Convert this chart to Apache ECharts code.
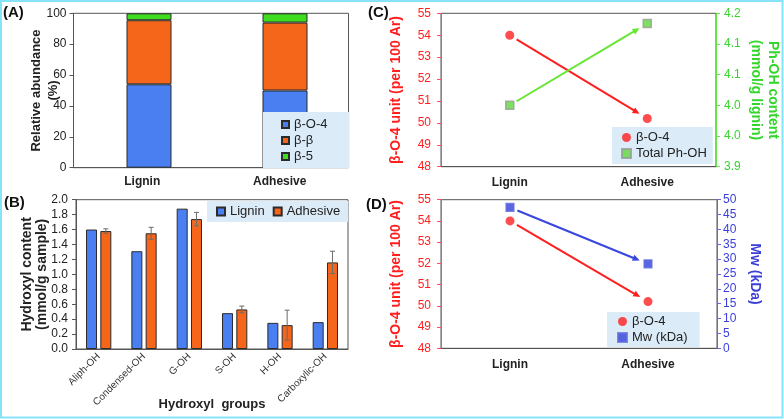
<!DOCTYPE html>
<html>
<head>
<meta charset="utf-8">
<script src="https://cdn.jsdelivr.net/npm/echarts@6/dist/echarts.min.js"></script>
<style>
html,body{margin:0;padding:0;background:#fff;}
#chart{width:784px;height:420px;}
</style>
</head>
<body>
<div id="chart"></div>
<script>
// ---------- data ----------
const abundCats = ['Lignin', 'Adhesive'];
const abundBO4 = [54, 50];
const abundBB = [41.5, 44];
const abundB5 = [4.5, 6];

const ohCats = ['Aliph-OH', 'Condensed-OH', 'G-OH', 'S-OH', 'H-OH', 'Carboxylic-OH'];
const ligninOH = [1.60, 1.31, 1.88, 0.48, 0.35, 0.36];
const adhesiveOH = [1.58, 1.55, 1.74, 0.53, 0.32, 1.16];
const adhesiveErr = [0.03, 0.08, 0.09, 0.045, 0.20, 0.15];

const sampleCats = ['Lignin', 'Adhesive'];
const betaO4Unit = [54.0, 50.2];
const phOH = [4.02, 4.18];
const mwKDa = [47.4, 28.4];

const leftTicksBO4 = [48, 55, 1];
const phTicks = [3.9, 4.2, 0.06];
const mwTicks = [0, 50, 5];

// ---------- style ----------
const FONT = "'Liberation Sans', Arial, sans-serif";
const BLUE = '#4a7ff2', ORANGE = '#f5661a', GREEN = '#3fdc1f';
const RED = '#ff1f1f', GRN = '#33d62a', NAVY = '#3b3fd8';
const AX = '#555';

const chart = echarts.init(document.getElementById('chart'), null, {renderer: 'canvas'});

function arrowRender(color, g0, g1) {
  return function (params, api) {
    const p0 = api.coord([api.value(0), api.value(1)]);
    const p1 = api.coord([api.value(2), api.value(3)]);
    const dx = p1[0] - p0[0], dy = p1[1] - p0[1];
    const L = Math.hypot(dx, dy), ux = dx / L, uy = dy / L;
    const nx = -uy, ny = ux;
    const s = [p0[0] + ux * g0, p0[1] + uy * g0];
    const e = [p1[0] - ux * g1, p1[1] - uy * g1];
    const hl = 7, hw = 3.2;
    const b = [e[0] - ux * hl, e[1] - uy * hl];
    return {
      type: 'group',
      children: [
        {type: 'line', shape: {x1: s[0], y1: s[1], x2: b[0] + ux, y2: b[1] + uy}, style: {stroke: color, lineWidth: 2}},
        {type: 'polygon', shape: {points: [e, [b[0] + nx * hw, b[1] + ny * hw], [b[0] - nx * hw, b[1] - ny * hw]]}, style: {fill: color}}
      ]
    };
  };
}

function errRender(params, api) {
  const i = api.value(0);
  const lo = api.coord([i, api.value(1)]);
  const hi = api.coord([i, api.value(2)]);
  const off = 11 / 2 + 11 * 0.3 / 2;
  const x = lo[0] + off, cap = 2.5;
  const st = {stroke: '#6b6b6b', lineWidth: 1};
  return {
    type: 'group',
    children: [
      {type: 'line', shape: {x1: x, y1: lo[1], x2: x, y2: hi[1]}, style: st},
      {type: 'line', shape: {x1: x - cap, y1: lo[1], x2: x + cap, y2: lo[1]}, style: st},
      {type: 'line', shape: {x1: x - cap, y1: hi[1], x2: x + cap, y2: hi[1]}, style: st}
    ]
  };
}

const catLabel = {fontFamily: FONT, fontSize: 12, fontWeight: 'bold', color: '#222'};
const numLabel = (c) => ({fontFamily: FONT, fontSize: 12, color: c});
const nameStyle = (c, lh) => ({fontFamily: FONT, fontSize: 14, fontWeight: 'bold', color: c, lineHeight: lh || 16});

const option = {
  animation: false,
  backgroundColor: '#fff',
  textStyle: {fontFamily: FONT},
  title: [
    {text: '(A)', left: 3, top: 5, padding: 0, textStyle: {fontFamily: FONT, fontSize: 15, fontWeight: 'bold', color: '#111'}},
    {text: '(B)', left: 4, top: 195, padding: 0, textStyle: {fontFamily: FONT, fontSize: 15, fontWeight: 'bold', color: '#111'}},
    {text: '(C)', left: 368, top: 5, padding: 0, textStyle: {fontFamily: FONT, fontSize: 15, fontWeight: 'bold', color: '#111'}},
    {text: '(D)', left: 366, top: 197, padding: 0, textStyle: {fontFamily: FONT, fontSize: 15, fontWeight: 'bold', color: '#111'}}
  ],
  graphic: [
    {type: 'rect', z: 100, shape: {x: 1, y: 1, width: 781.5, height: 416.5}, style: {fill: 'none', stroke: '#86e3f8', lineWidth: 2}}
  ],
  grid: [
    {left: 73.5, top: 13.3, width: 275, height: 154.4, show: true, borderColor: AX, borderWidth: 1},
    {left: 81, top: 13.3, width: 272, height: 154.4, show: false},
    {left: 76, top: 199.7, width: 272, height: 149.3, show: true, borderColor: AX, borderWidth: 1},
    {left: 441, top: 13.3, width: 275, height: 153.4, show: true, borderColor: AX, borderWidth: 1},
    {left: 441, top: 199.7, width: 276, height: 148.6, show: true, borderColor: AX, borderWidth: 1}
  ],
  xAxis: [
    {gridIndex: 0, type: 'category', data: abundCats, axisLine: {lineStyle: {color: AX}}, axisTick: {alignWithLabel: true, length: 4, lineStyle: {color: AX}}, axisLabel: Object.assign({margin: 8}, catLabel), splitLine: {show: false}},
    {gridIndex: 1, type: 'category', data: abundCats, show: false},
    {gridIndex: 2, type: 'category', data: ohCats, axisLine: {lineStyle: {color: AX}}, axisTick: {length: 4, lineStyle: {color: AX}}, axisLabel: {rotate: 45, margin: 6, fontFamily: FONT, fontSize: 10, color: '#333', interval: 0},
      name: 'Hydroxyl  groups', nameLocation: 'middle', nameGap: 49, nameMoveOverlap: false, nameTextStyle: {fontFamily: FONT, fontSize: 13, fontWeight: 'bold', color: '#222'}},
    {gridIndex: 3, type: 'category', data: sampleCats, axisLine: {lineStyle: {color: AX}}, axisTick: {alignWithLabel: true, length: 4, lineStyle: {color: AX}}, axisLabel: Object.assign({margin: 10}, catLabel)},
    {gridIndex: 4, type: 'category', data: sampleCats, axisLine: {lineStyle: {color: AX}}, axisTick: {alignWithLabel: true, length: 4, lineStyle: {color: AX}}, axisLabel: Object.assign({margin: 10}, catLabel)}
  ],
  yAxis: [
    {gridIndex: 0, type: 'value', min: 0, max: 100, interval: 20, splitLine: {show: false},
      axisLine: {show: true, lineStyle: {color: AX}}, axisTick: {show: true, length: 4, lineStyle: {color: AX}}, axisLabel: Object.assign({margin: 7}, numLabel('#222')),
      name: 'Relative abundance\n(%)', nameLocation: 'middle', nameGap: 12, nameMoveOverlap: false, nameTextStyle: Object.assign(nameStyle('#222', 17), {fontSize: 13})},
    {gridIndex: 1, type: 'value', min: 0, max: 100, show: false, splitLine: {show: false}},
    {gridIndex: 2, type: 'value', min: 0, max: 2, interval: 0.2, splitLine: {show: false},
      axisLine: {show: true, lineStyle: {color: AX}}, axisTick: {show: true, length: 4, lineStyle: {color: AX}},
      axisLabel: Object.assign({margin: 8, formatter: v => v.toFixed(1)}, numLabel('#222')),
      name: 'Hydroxyl content\n(mmol/g sample)', nameLocation: 'middle', nameGap: 26, nameMoveOverlap: false, nameTextStyle: nameStyle('#222', 15)},
    {gridIndex: 3, type: 'value', position: 'left', min: leftTicksBO4[0], max: leftTicksBO4[1], interval: leftTicksBO4[2], splitLine: {show: false},
      axisLine: {show: true, lineStyle: {color: '#ff4d6a'}}, axisTick: {show: true, length: 4, lineStyle: {color: '#ff4d6a'}}, axisLabel: Object.assign({margin: 10}, numLabel(RED)),
      name: 'β-O-4 unit (per 100 Ar)', nameLocation: 'middle', nameGap: 37, nameMoveOverlap: false, nameTextStyle: nameStyle(RED)},
    {gridIndex: 3, type: 'value', position: 'right', min: phTicks[0], max: phTicks[1], interval: phTicks[2], splitLine: {show: false},
      axisLine: {show: true, lineStyle: {color: '#66e64a'}}, axisTick: {show: true, length: 4, lineStyle: {color: '#66e64a'}},
      axisLabel: Object.assign({margin: 8, formatter: v => v.toFixed(1)}, numLabel(GRN)),
      name: 'Ph-OH content\n(mmol/g lignin)', nameLocation: 'middle', nameRotate: -90, nameGap: 31, nameMoveOverlap: false, nameTextStyle: nameStyle(GRN, 17)},
    {gridIndex: 4, type: 'value', position: 'left', min: leftTicksBO4[0], max: leftTicksBO4[1], interval: leftTicksBO4[2], splitLine: {show: false},
      axisLine: {show: true, lineStyle: {color: '#ff4d6a'}}, axisTick: {show: true, length: 4, lineStyle: {color: '#ff4d6a'}}, axisLabel: Object.assign({margin: 10}, numLabel(RED)),
      name: 'β-O-4 unit (per 100 Ar)', nameLocation: 'middle', nameGap: 37, nameMoveOverlap: false, nameTextStyle: nameStyle(RED)},
    {gridIndex: 4, type: 'value', position: 'right', min: mwTicks[0], max: mwTicks[1], interval: mwTicks[2], splitLine: {show: false},
      axisLine: {show: true, lineStyle: {color: '#6464f0'}}, axisTick: {show: true, length: 4, lineStyle: {color: '#6464f0'}},
      axisLabel: Object.assign({margin: 6}, numLabel(NAVY)),
      name: 'Mw (kDa)', nameLocation: 'middle', nameRotate: -90, nameGap: 30, nameMoveOverlap: false, nameTextStyle: nameStyle(NAVY)}
  ],
  legend: [
    {left: 263, top: 112, orient: 'vertical', data: ['β-O-4', 'β-β', 'β-5'], icon: 'rect', itemWidth: 7, itemHeight: 7, itemGap: 3,
      padding: [6, 22, 5, 18], backgroundColor: '#dcebf8', textStyle: {fontFamily: FONT, fontSize: 13, color: '#222'}, selectedMode: false},
    {left: 207, top: 201, orient: 'horizontal', data: ['Lignin', 'Adhesive'], icon: 'rect', itemWidth: 8, itemHeight: 8, itemGap: 8,
      padding: [4, 8, 4, 9], backgroundColor: '#dcebf8', textStyle: {fontFamily: FONT, fontSize: 13, color: '#222'}, selectedMode: false},
    {left: 612, top: 127, orient: 'vertical', data: ['β-O-4\u200b', 'Total Ph-OH'], itemWidth: 9, itemHeight: 9, itemGap: 3,
      padding: [4, 6, 4, 9], backgroundColor: '#dcebf8', textStyle: {fontFamily: FONT, fontSize: 13, color: '#222'}, selectedMode: false,
      formatter: n => n.replace(/\u200b/g, '')},
    {left: 607, top: 312, orient: 'vertical', data: ['β-O-4\u200b\u200b', 'Mw (kDa)'], itemWidth: 9, itemHeight: 9, itemGap: 3,
      padding: [3, 12, 3, 10], backgroundColor: '#dcebf8', textStyle: {fontFamily: FONT, fontSize: 13, color: '#222'}, selectedMode: false,
      formatter: n => n.replace(/\u200b/g, '')}
  ],
  series: [
    // (A)
    {name: 'β-O-4', type: 'bar', stack: 'a', xAxisIndex: 1, yAxisIndex: 1, data: abundBO4, barWidth: 45,
      itemStyle: {color: BLUE, borderColor: '#2b2b2b', borderWidth: 1}},
    {name: 'β-β', type: 'bar', stack: 'a', xAxisIndex: 1, yAxisIndex: 1, data: abundBB, barWidth: 45,
      itemStyle: {color: ORANGE, borderColor: '#2b2b2b', borderWidth: 1}},
    {name: 'β-5', type: 'bar', stack: 'a', xAxisIndex: 1, yAxisIndex: 1, data: abundB5, barWidth: 45,
      itemStyle: {color: GREEN, borderColor: '#2b2b2b', borderWidth: 1}},
    // (B)
    {name: 'Lignin', type: 'bar', xAxisIndex: 2, yAxisIndex: 2, data: ligninOH, barWidth: 11, barGap: '30%',
      itemStyle: {color: BLUE, borderColor: '#2b2b2b', borderWidth: 1}},
    {name: 'Adhesive', type: 'bar', xAxisIndex: 2, yAxisIndex: 2, data: adhesiveOH, barWidth: 11, barGap: '30%',
      itemStyle: {color: ORANGE, borderColor: '#2b2b2b', borderWidth: 1}},
    {name: 'adhesive error', type: 'custom', xAxisIndex: 2, yAxisIndex: 2, z: 5,
      data: adhesiveOH.map((v, i) => [i, v - adhesiveErr[i], v + adhesiveErr[i]]),
      encode: {x: 0, y: [1, 2]}, renderItem: errRender},
    // (C)
    {name: 'c-arrow-red', type: 'custom', xAxisIndex: 3, yAxisIndex: 3, z: 2,
      data: [[0, betaO4Unit[0], 1, betaO4Unit[1]]], encode: {x: [0, 2], y: [1, 3]}, renderItem: arrowRender(RED, 8, 9)},
    {name: 'c-arrow-green', type: 'custom', xAxisIndex: 3, yAxisIndex: 4, z: 2,
      data: [[0, phOH[0], 1, phOH[1]]], encode: {x: [0, 2], y: [1, 3]}, renderItem: arrowRender('#66e632', 8, 9)},
    {name: 'β-O-4\u200b', type: 'scatter', xAxisIndex: 3, yAxisIndex: 3, z: 4, data: betaO4Unit, symbol: 'circle', symbolSize: 9,
      itemStyle: {color: RED}},
    {name: 'Total Ph-OH', type: 'scatter', xAxisIndex: 3, yAxisIndex: 4, z: 4, data: phOH, symbol: 'rect', symbolSize: 8,
      itemStyle: {color: '#5ed83a', borderColor: '#9a9a9a', borderWidth: 1.5}},
    // (D)
    {name: 'd-arrow-red', type: 'custom', xAxisIndex: 4, yAxisIndex: 5, z: 2,
      data: [[0, betaO4Unit[0], 1, betaO4Unit[1]]], encode: {x: [0, 2], y: [1, 3]}, renderItem: arrowRender(RED, 8, 9)},
    {name: 'd-arrow-blue', type: 'custom', xAxisIndex: 4, yAxisIndex: 6, z: 2,
      data: [[0, mwKDa[0], 1, mwKDa[1]]], encode: {x: [0, 2], y: [1, 3]}, renderItem: arrowRender('#3a46e0', 8, 9)},
    {name: 'β-O-4\u200b\u200b', type: 'scatter', xAxisIndex: 4, yAxisIndex: 5, z: 4, data: betaO4Unit, symbol: 'circle', symbolSize: 9,
      itemStyle: {color: RED}},
    {name: 'Mw (kDa)', type: 'scatter', xAxisIndex: 4, yAxisIndex: 6, z: 4, data: mwKDa, symbol: 'rect', symbolSize: 8,
      itemStyle: {color: '#3340d8', borderColor: '#6270e0', borderWidth: 1.2}}
  ]
};
chart.setOption(option);
</script>
</body>
</html>
